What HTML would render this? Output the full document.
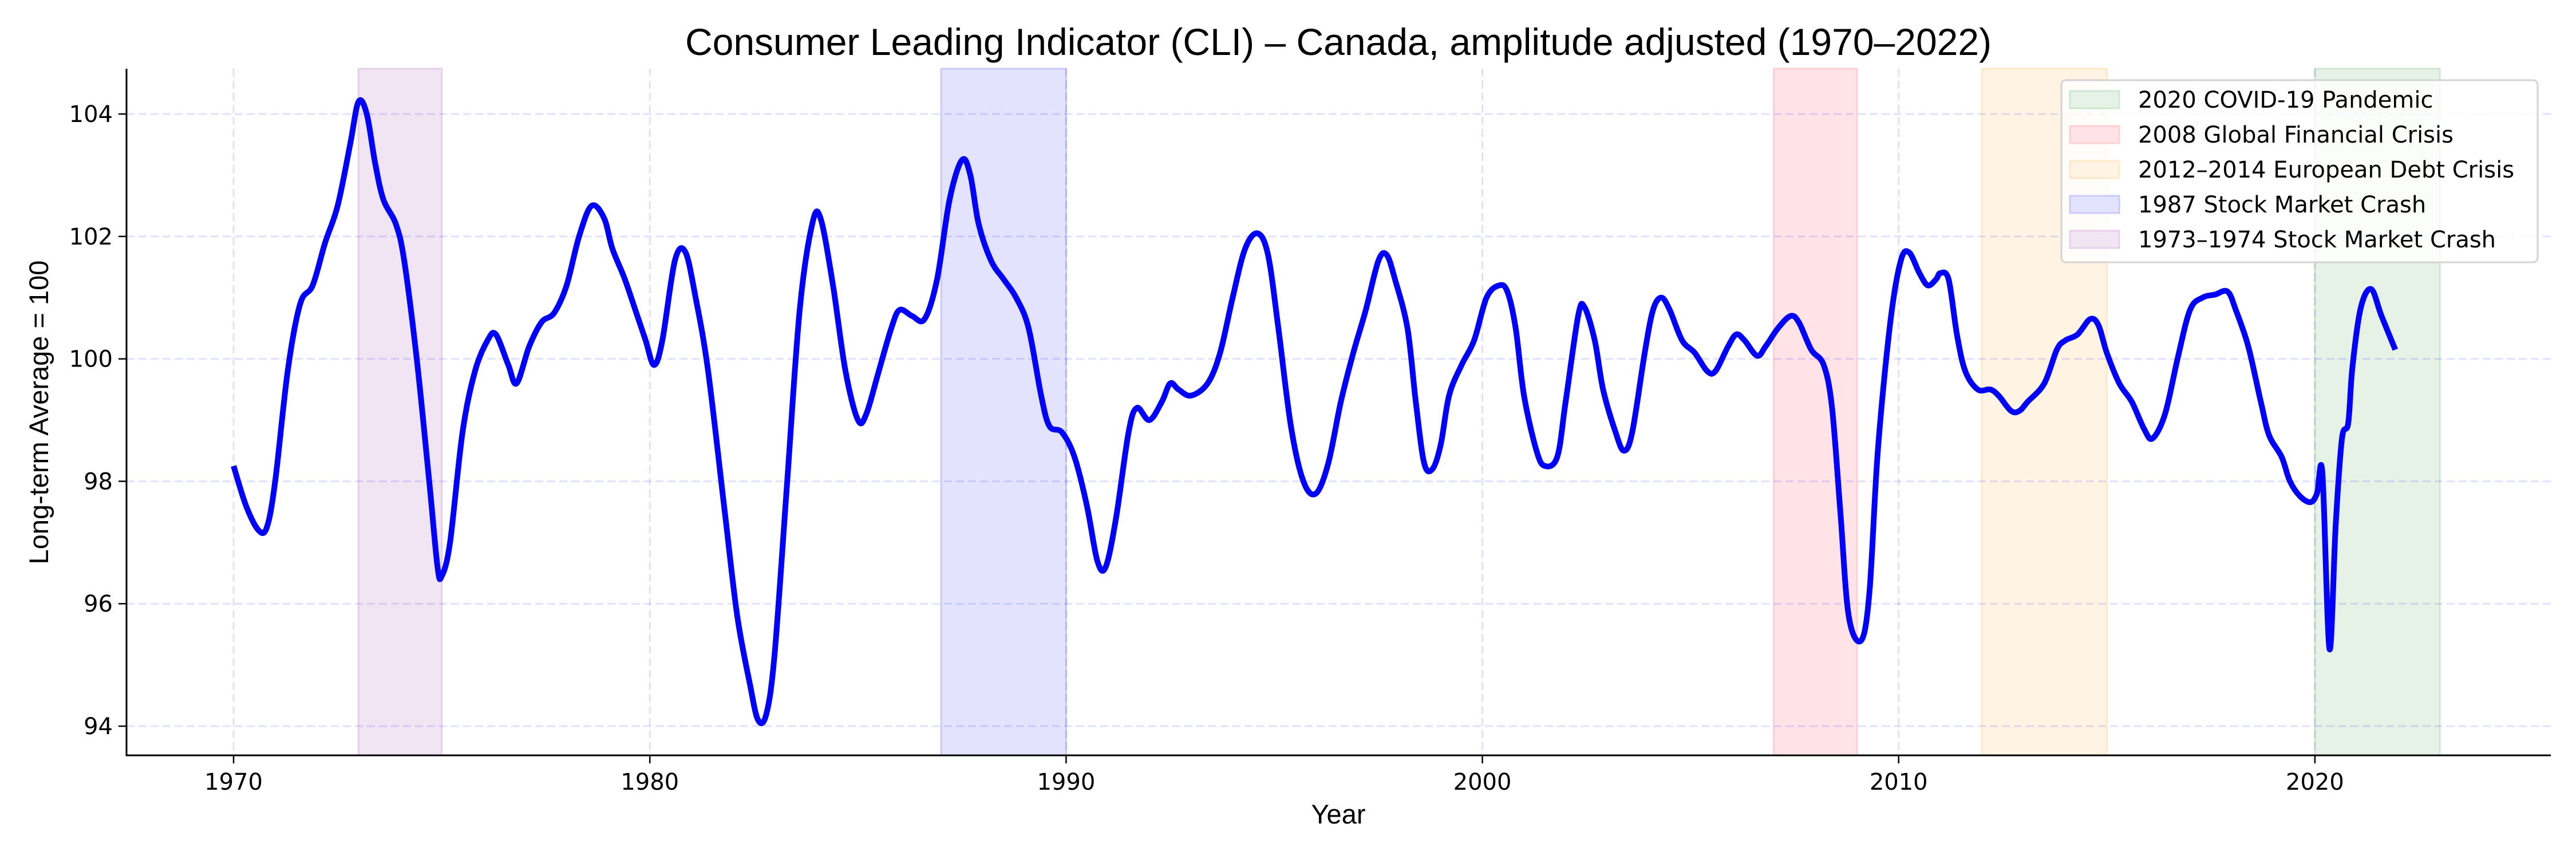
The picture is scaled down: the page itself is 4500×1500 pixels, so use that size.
<!DOCTYPE html>
<html><head><meta charset="utf-8"><style>
html,body{margin:0;padding:0;background:#fff;}
svg{display:block;}
.tick{font-family:"DejaVu Sans",sans-serif;font-size:40px;fill:#000;}
</style></head><body>
<svg id="chart" width="4500" height="1500" viewBox="0 0 4500 1500" xmlns="http://www.w3.org/2000/svg">
<text x="2338" y="96" text-anchor="middle" font-family="Liberation Sans, sans-serif" font-size="66">Consumer Leading Indicator (CLI) – Canada, amplitude adjusted (1970–2022)</text>
<g id="bands"></g>
<g id="grid"></g>
<g id="series"></g>
<g id="axes"></g>
<text x="2338" y="1438" text-anchor="middle" font-family="Liberation Sans, sans-serif" font-size="47">Year</text>
<text transform="translate(84,720) rotate(-90)" text-anchor="middle" font-family="Liberation Sans, sans-serif" font-size="47">Long-term Average = 100</text>
<g id="legend"></g>
</svg>
<script>
const years = [1970.0,1970.3,1970.6,1970.8,1971.0,1971.3,1971.6,1971.9,1972.2,1972.5,1972.8,1973.0,1973.2,1973.4,1973.6,1973.9,1974.1,1974.4,1974.7,1974.9,1975.0,1975.2,1975.5,1975.8,1976.1,1976.3,1976.6,1976.8,1977.1,1977.4,1977.7,1978.0,1978.3,1978.6,1978.9,1979.1,1979.4,1979.7,1979.9,1980.1,1980.3,1980.6,1980.85,1981.1,1981.4,1981.8,1982.1,1982.4,1982.6,1982.8,1983.0,1983.3,1983.6,1983.9,1984.1,1984.4,1984.7,1985.0,1985.2,1985.5,1985.8,1986.0,1986.3,1986.6,1986.9,1987.2,1987.5,1987.7,1987.9,1988.2,1988.5,1988.8,1989.1,1989.4,1989.6,1989.9,1990.2,1990.5,1990.75,1990.95,1991.2,1991.5,1991.7,1992.0,1992.3,1992.5,1992.7,1993.0,1993.4,1993.7,1994.0,1994.3,1994.6,1994.85,1995.1,1995.4,1995.7,1996.0,1996.3,1996.6,1996.9,1997.2,1997.5,1997.7,1997.9,1998.2,1998.4,1998.6,1998.8,1999.0,1999.2,1999.5,1999.8,2000.1,2000.4,2000.6,2000.8,2001.0,2001.3,2001.5,2001.8,2002.0,2002.3,2002.45,2002.7,2002.9,2003.2,2003.4,2003.6,2003.9,2004.1,2004.3,2004.5,2004.8,2005.1,2005.4,2005.6,2005.9,2006.1,2006.3,2006.6,2006.8,2007.1,2007.4,2007.6,2007.9,2008.2,2008.4,2008.6,2008.8,2009.1,2009.3,2009.5,2009.8,2010.05,2010.25,2010.5,2010.7,2010.9,2011.0,2011.2,2011.4,2011.6,2011.9,2012.2,2012.4,2012.7,2012.9,2013.1,2013.5,2013.8,2014.0,2014.3,2014.6,2014.8,2015.0,2015.3,2015.6,2015.9,2016.1,2016.4,2016.7,2017.0,2017.3,2017.6,2017.9,2018.1,2018.4,2018.7,2018.9,2019.2,2019.4,2019.65,2019.9,2020.05,2020.18,2020.35,2020.5,2020.65,2020.8,2020.9,2021.1,2021.35,2021.6,2021.93];
const values = [98.25,97.6,97.2,97.25,98.0,99.8,100.9,101.2,101.9,102.5,103.5,104.2,104.0,103.2,102.6,102.2,101.6,100.0,98.0,96.6,96.45,97.0,98.8,99.8,100.3,100.4,99.9,99.6,100.2,100.6,100.75,101.2,102.0,102.5,102.3,101.8,101.3,100.7,100.3,99.9,100.3,101.6,101.75,101.0,99.8,97.5,95.8,94.7,94.1,94.2,95.2,98.0,100.8,102.2,102.3,101.2,99.8,99.0,99.1,99.8,100.5,100.8,100.7,100.65,101.3,102.6,103.25,103.0,102.2,101.6,101.3,101.0,100.5,99.4,98.9,98.8,98.4,97.6,96.7,96.6,97.4,98.8,99.2,99.0,99.3,99.6,99.5,99.4,99.6,100.1,101.0,101.8,102.05,101.7,100.5,98.9,98.0,97.8,98.3,99.3,100.1,100.8,101.6,101.7,101.3,100.5,99.3,98.3,98.2,98.6,99.4,99.9,100.3,101.0,101.2,101.1,100.5,99.4,98.5,98.25,98.4,99.3,100.7,100.85,100.3,99.5,98.8,98.5,98.8,100.1,100.8,101.0,100.8,100.3,100.1,99.8,99.8,100.2,100.4,100.3,100.05,100.2,100.5,100.7,100.6,100.15,99.9,99.2,97.5,95.8,95.4,96.2,98.5,100.6,101.6,101.74,101.4,101.2,101.3,101.4,101.3,100.4,99.8,99.5,99.5,99.4,99.15,99.15,99.3,99.6,100.15,100.3,100.4,100.65,100.55,100.1,99.6,99.3,98.85,98.7,99.1,100.0,100.8,101.0,101.05,101.1,100.8,100.2,99.3,98.75,98.4,98.0,97.75,97.66,97.8,98.13,95.26,97.3,98.7,98.95,99.86,100.83,101.14,100.7,100.15];
const xTicks = [1970,1980,1990,2000,2010,2020];
const yTicks = [94,96,98,100,102,104];
const bandStarts = [2020,2007,2012,1987,1973];
const bandEnds = [2023,2009,2015,1990,1975];
const bandLabels = ["2020 COVID-19 Pandemic","2008 Global Financial Crisis","2012–2014 European Debt Crisis","1987 Stock Market Crash","1973–1974 Stock Market Crash"];
const bandFills = ["#e5f2e5","#ffe3e6","#fff4e3","#e3e3fd","#f2e5f3"];
const bandEdges = ["#cfe6cf","#ffcfd3","#ffe8c8","#cacafa","#e6cfea"];

const L=221,R=4456,T=120,B=1319;
const X0=1967.428,X1=2025.667,Y0=93.523,Y1=104.74;
const sx=v=>L+(v-X0)/(X1-X0)*(R-L);
const sy=v=>B-(v-Y0)/(Y1-Y0)*(B-T);
const NS="http://www.w3.org/2000/svg";
function mk(tag,attrs,parent){const e=document.createElementNS(NS,tag);for(const k in attrs)e.setAttribute(k,attrs[k]);parent.appendChild(e);return e;}

const bands=document.getElementById('bands');
bandStarts.forEach((s,i)=>{
  const r=mk('rect',{x:sx(s),y:T,width:sx(bandEnds[i])-sx(s),height:B-T,fill:bandFills[i],stroke:bandEdges[i],'stroke-width':3},bands);
  
  
});
const grid=document.getElementById('grid');
xTicks.forEach(t=>{
  const l=mk('line',{x1:sx(t),x2:sx(t),y1:T,y2:B,stroke:'rgba(0,0,255,0.12)','stroke-width':3,'stroke-dasharray':'14,7'},grid);
  
  
});
yTicks.forEach(t=>{
  const l=mk('line',{x1:L,x2:R,y1:sy(t),y2:sy(t),stroke:'rgba(0,0,255,0.12)','stroke-width':3,'stroke-dasharray':'14,7'},grid);
  
  
});
const pts=years.map((y,i)=>[sx(y),sy(values[i])]);
let d='M'+pts[0][0].toFixed(1)+','+pts[0][1].toFixed(1);
for(let i=0;i<pts.length-1;i++){
  const p0=pts[Math.max(0,i-1)],p1=pts[i],p2=pts[i+1],p3=pts[Math.min(pts.length-1,i+2)];
  const c1=[p1[0]+(p2[0]-p0[0])/6,p1[1]+(p2[1]-p0[1])/6];
  const c2=[p2[0]-(p3[0]-p1[0])/6,p2[1]-(p3[1]-p1[1])/6];
  d+=' C'+c1[0].toFixed(1)+','+c1[1].toFixed(1)+' '+c2[0].toFixed(1)+','+c2[1].toFixed(1)+' '+p2[0].toFixed(1)+','+p2[1].toFixed(1);
}
const line=mk('path',{d:d,fill:'none',stroke:'#0000ff','stroke-width':10,'stroke-linejoin':'round'},document.getElementById('series'));



const axes=document.getElementById('axes');
mk('line',{x1:L,x2:L,y1:T,y2:B+1.5,stroke:'#000','stroke-width':3},axes);
mk('line',{x1:L-1.5,x2:R,y1:B,y2:B,stroke:'#000','stroke-width':3},axes);
xTicks.forEach(t=>{
  mk('line',{x1:sx(t),x2:sx(t),y1:B,y2:B+14,stroke:'#000','stroke-width':2.5},axes);
  const tx=mk('text',{x:sx(t),y:B+60,'text-anchor':'middle',class:'tick'},axes);
  tx.textContent=t;
  
  
});
yTicks.forEach(t=>{
  mk('line',{x1:L-14,x2:L,y1:sy(t),y2:sy(t),stroke:'#000','stroke-width':2.5},axes);
  const tx=mk('text',{x:L-24,y:sy(t)+14,'text-anchor':'end',class:'tick'},axes);
  tx.textContent=t;
  
  
});
const lg=document.getElementById('legend');
mk('rect',{x:3601,y:140,width:832,height:318,rx:8,fill:'rgba(255,255,255,0.8)',stroke:'#d3d3d3','stroke-width':3},lg);
bandLabels.forEach((lab,i)=>{
  const cy=174+i*61;
  const g=mk('g',{},lg);
  
  
  mk('rect',{x:3616,y:cy-15,width:86,height:30,fill:bandFills[i],stroke:bandEdges[i],'stroke-width':3},g);
  const tx=mk('text',{x:3735,y:cy+14,class:'tick'},g);
  tx.textContent=lab;
});
</script>
</body></html>
